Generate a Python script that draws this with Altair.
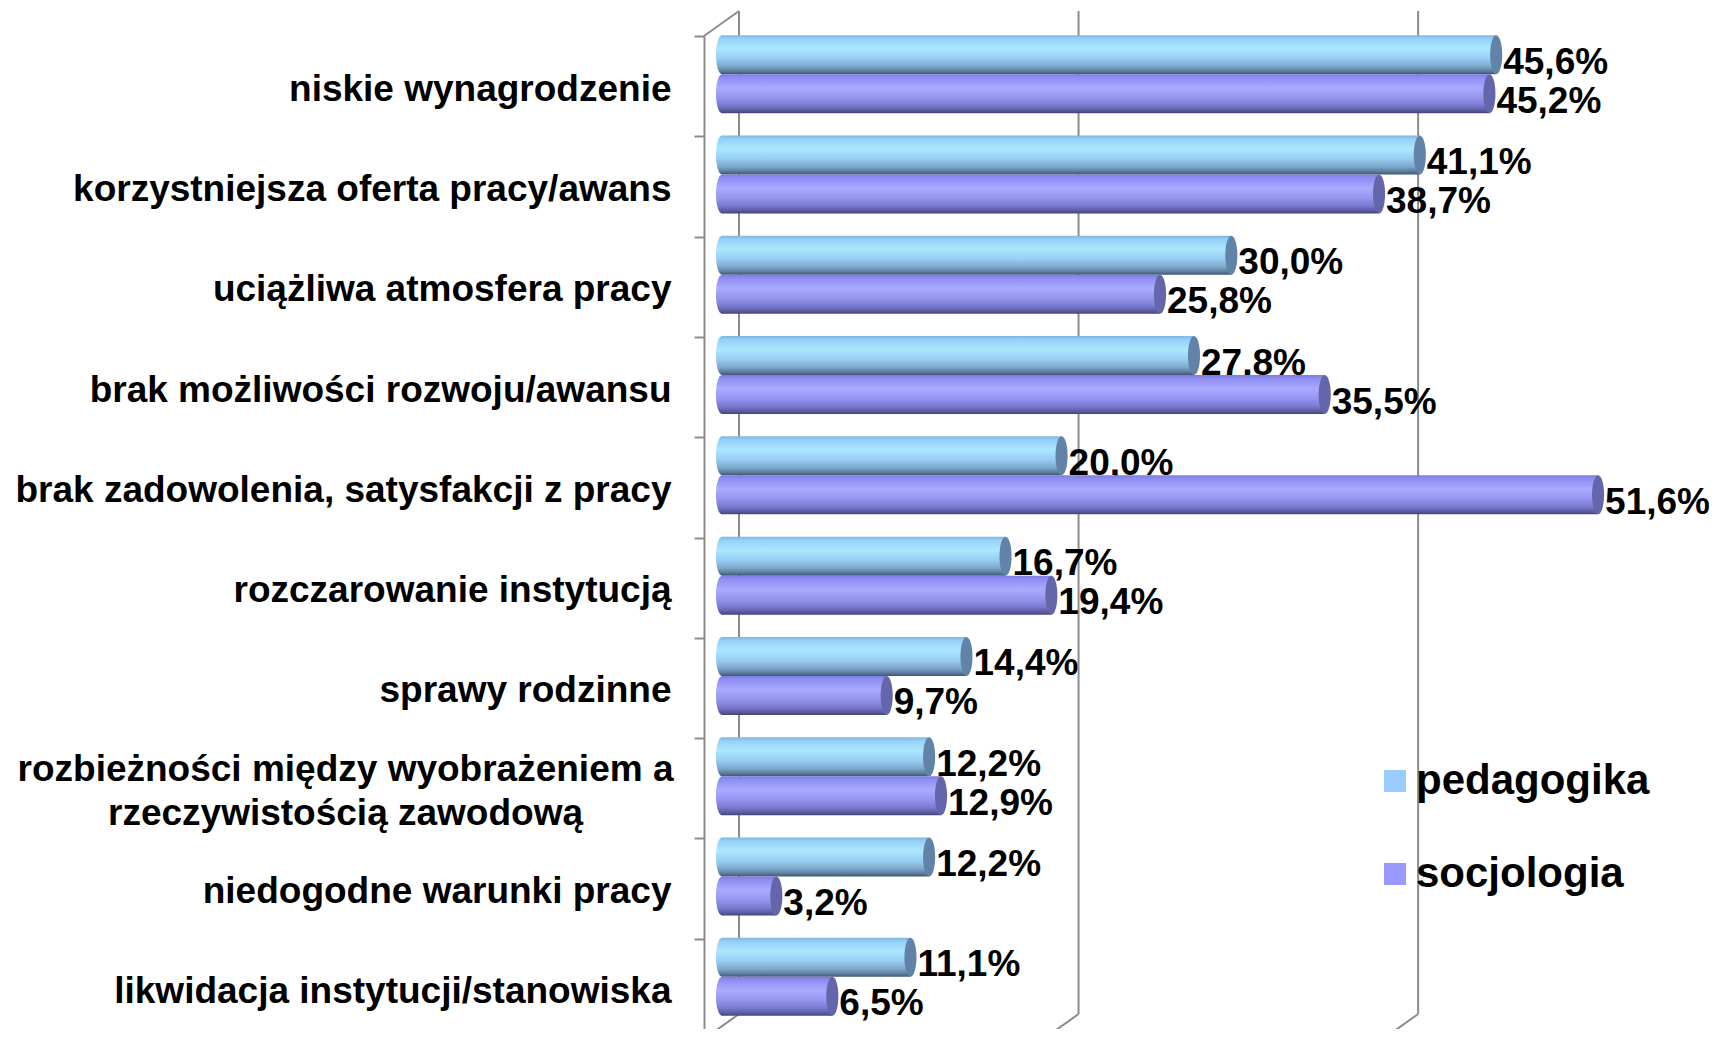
import altair as alt
import pandas as pd

categories = [
    "niskie wynagrodzenie",
    "korzystniejsza oferta pracy/awans",
    "uciążliwa atmosfera pracy",
    "brak możliwości rozwoju/awansu",
    "brak zadowolenia, satysfakcji z pracy",
    "rozczarowanie instytucją",
    "sprawy rodzinne",
    "rozbieżności między wyobrażeniem a\nrzeczywistością zawodową",
    "niedogodne warunki pracy",
    "likwidacja instytucji/stanowiska",
]
series_names = ["pedagogika", "socjologia"]
pedagogika = [45.6, 41.1, 30.0, 27.8, 20.0, 16.7, 14.4, 12.2, 12.2, 11.1]
socjologia = [45.2, 38.7, 25.8, 35.5, 51.6, 19.4, 9.7, 12.9, 3.2, 6.5]
gridlines = [0, 20, 40]
legend_colors = ["#99CCFF", "#9999FF"]

rows = []
for i, c in enumerate(categories):
    rows.append({"category": c, "series": "pedagogika", "value": pedagogika[i]})
    rows.append({"category": c, "series": "socjologia", "value": socjologia[i]})
df = pd.DataFrame(rows)
grid_df = pd.DataFrame({"g": gridlines})
origin_df = pd.DataFrame({"g": [gridlines[0]]})

FONT = "Liberation Sans"
GRAY = "#8c8c8c"
PLANE_H = 1003
DEPTH_X, DEPTH_Y = 35, -25
BAR_X = 18
BAR_H = 39
CENTER_SHIFT = -12
ELLIPSE = "M 0 -1 A 0.31 1 0 1 1 0 1 A 0.31 1 0 1 1 0 -1 Z"

multi = "isString(datum.value) && indexof(datum.value, '\\n') > 0"
label_expr = (
    multi + " ? split(datum.value, '\\n') : (isString(datum.value) ? datum.value : '')"
)

xscale = alt.Scale(domain=[0, 58.9], nice=False, zero=True)
yscale = alt.Scale(domain=categories, range=[0, PLANE_H], paddingInner=0, paddingOuter=0)

y_axis = alt.Axis(
    title=None, grid=False, domainColor=GRAY, domainWidth=2, tickColor=GRAY, tickWidth=2,
    tickSize=10, tickBand="extent", labelFont=FONT, labelFontWeight="bold", labelFontSize=37,
    labelColor="black", labelLimit=0, labelExpr=label_expr, labelLineHeight=44,
    labelPadding={"condition": {"test": multi, "value": 349}, "value": 23},
    labelAlign={"condition": {"test": multi, "value": "center"}, "value": "right"},
    labelOffset={"condition": {"test": multi, "value": -19}, "value": 3},
)


def grad(stops):
    return alt.LinearGradient(
        gradient="linear", x1=0, x2=0, y1=0, y2=1,
        stops=[alt.GradientStop(color=c, offset=o) for o, c in stops],
    )


grads = {
    "pedagogika": grad([(0, "#7FB6E2"), (0.1, "#95D2F8"), (0.35, "#ACE6FF"), (0.6, "#97CDF3"),
                        (0.8, "#7EA8CC"), (0.92, "#5C7E9E"), (1, "#3E566E")]),
    "socjologia": grad([(0, "#7C7CE2"), (0.1, "#8F8FF4"), (0.35, "#AAAAFF"), (0.6, "#9595F0"),
                        (0.8, "#7A7AD0"), (0.92, "#5E5EA4"), (1, "#44447A")]),
}
cap_colors = {"pedagogika": "#6283A8", "socjologia": "#6565AB"}
offsets = {"pedagogika": CENTER_SHIFT - BAR_H / 2, "socjologia": CENTER_SHIFT + BAR_H / 2}

base = alt.Chart(df)

axis_layer = base.mark_point(opacity=0).encode(
    x=alt.X("value:Q", scale=xscale, axis=None),
    y=alt.Y("category:N", sort=categories, scale=yscale, axis=y_axis),
)

back_grid = alt.Chart(grid_df).mark_rule(
    color=GRAY, strokeWidth=2, xOffset=DEPTH_X, x2Offset=DEPTH_X, yOffset=DEPTH_Y, y2Offset=DEPTH_Y
).encode(x=alt.X("g:Q", scale=xscale), y=alt.value(0), y2=alt.value(PLANE_H))

floor_diag = alt.Chart(grid_df).mark_rule(
    color=GRAY, strokeWidth=2, x2Offset=DEPTH_X, y2Offset=DEPTH_Y
).encode(x=alt.X("g:Q", scale=xscale), x2="g:Q", y=alt.value(PLANE_H), y2=alt.value(PLANE_H))

top_diag = alt.Chart(origin_df).mark_rule(
    color=GRAY, strokeWidth=2, x2Offset=DEPTH_X, y2Offset=DEPTH_Y
).encode(x=alt.X("g:Q", scale=xscale), x2="g:Q", y=alt.value(0), y2=alt.value(0))

layers = [axis_layer, back_grid, floor_diag, top_diag]

for s in series_names:
    sd = base.transform_filter(alt.datum.series == s)
    yo = offsets[s]
    left_cap = sd.transform_calculate(zero="0").mark_point(
        shape=ELLIPSE, size=BAR_H * BAR_H, filled=True, opacity=1, color=grads[s],
        strokeWidth=0, xOffset=BAR_X, yOffset=yo,
    ).encode(x=alt.X("zero:Q", scale=xscale), y=alt.Y("category:N", sort=categories, scale=yscale))
    bar = sd.mark_bar(
        height=BAR_H, color=grads[s], xOffset=BAR_X, x2Offset=BAR_X, yOffset=yo,
    ).encode(x=alt.X("value:Q", scale=xscale), y=alt.Y("category:N", sort=categories, scale=yscale))
    right_cap = sd.mark_point(
        shape=ELLIPSE, size=BAR_H * BAR_H, filled=True, opacity=1, color=cap_colors[s],
        strokeWidth=0, xOffset=BAR_X, yOffset=yo,
    ).encode(x=alt.X("value:Q", scale=xscale), y=alt.Y("category:N", sort=categories, scale=yscale))
    text = sd.transform_calculate(
        label="replace(format(datum.value, '.1f'), '.', ',') + '%'"
    ).mark_text(
        align="left", baseline="middle", font=FONT, fontWeight="bold", fontSize=37, color="black",
        xOffset=BAR_X + 7, yOffset=yo + 8,
    ).encode(
        x=alt.X("value:Q", scale=xscale), y=alt.Y("category:N", sort=categories, scale=yscale),
        text="label:N",
    )
    layers += [left_cap, bar, right_cap, text]

legend_layer = base.mark_point(opacity=0, filled=True).encode(
    x=alt.X("value:Q", scale=xscale),
    y=alt.Y("category:N", sort=categories, scale=yscale),
    fill=alt.Fill(
        "series:N",
        scale=alt.Scale(domain=series_names, range=legend_colors),
        legend=alt.Legend(
            title=None, orient="none", legendX=670, legendY=724, symbolType="square",
            symbolSize=484, symbolOpacity=1, symbolStrokeWidth=0, labelFont=FONT,
            labelFontSize=42, labelFontWeight="bold", labelColor="black", labelOffset=0,
            labelLimit=0, rowPadding=51, padding=0,
        ),
    ),
)
layers.append(legend_layer)

chart = alt.layer(*layers).properties(
    width=1000, height=993,
    autosize=alt.AutoSizeParams(type="none"),
    padding={"left": 696, "top": 28, "right": 5, "bottom": 0},
    background="white",
).configure_view(stroke=None)

chart.save("out.html", embed_options={"renderer": "svg", "actions": False})
